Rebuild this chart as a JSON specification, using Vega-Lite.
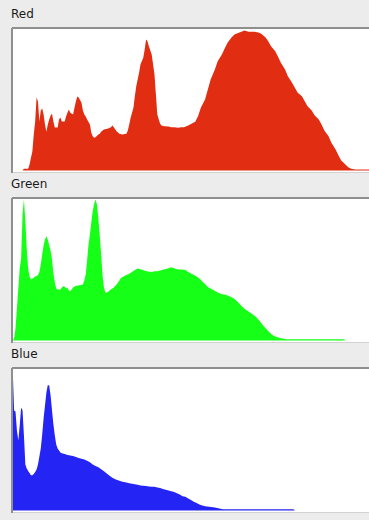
{
  "$schema": "https://vega.github.io/schema/vega-lite/v6.json",
  "background": "#ececec",
  "padding": {"left": 11, "top": 8, "right": 0, "bottom": 10},
  "spacing": 4,
  "config": {
    "view": {"stroke": null, "fill": "#ffffff"},
    "title": {"anchor": "start", "fontSize": 12, "font": "DejaVu Sans", "fontWeight": "normal", "color": "#1a1a1a", "offset": 6}
  },
  "datasets": {
    "red": [
      {"level":0,"count":0},{"level":7,"count":0},{"level":8,"count":1.7},{"level":11,"count":1.7},{"level":12,"count":6},{"level":13,"count":12.7},{"level":14,"count":19},{"level":15,"count":36},{"level":16,"count":49},{"level":17,"count":73},{"level":18,"count":69},{"level":19,"count":49},{"level":20,"count":60},{"level":21,"count":62},{"level":22,"count":56},{"level":23,"count":46},{"level":24,"count":38.7},{"level":25,"count":46},{"level":26,"count":51},{"level":27,"count":55},{"level":28,"count":56.7},{"level":29,"count":49},{"level":30,"count":43},{"level":31,"count":43},{"level":32,"count":43},{"level":33,"count":51},{"level":34,"count":53},{"level":35,"count":49},{"level":37,"count":49},{"level":38,"count":54},{"level":39,"count":57.7},{"level":40,"count":61},{"level":41,"count":57.7},{"level":43,"count":56},{"level":44,"count":62.7},{"level":45,"count":69},{"level":46,"count":74},{"level":47,"count":73},{"level":49,"count":67.7},{"level":50,"count":60},{"level":51,"count":56},{"level":52,"count":54},{"level":53,"count":51},{"level":55,"count":46},{"level":56,"count":37.7},{"level":57,"count":34.3},{"level":58,"count":32.7},{"level":59,"count":33.3},{"level":61,"count":36},{"level":62,"count":36.7},{"level":63,"count":38.7},{"level":64,"count":40},{"level":65,"count":41},{"level":68,"count":42},{"level":70,"count":43.3},{"level":71,"count":45},{"level":72,"count":43.3},{"level":74,"count":39.3},{"level":76,"count":36.7},{"level":78,"count":36},{"level":81,"count":36.7},{"level":82,"count":40},{"level":83,"count":46},{"level":84,"count":52.7},{"level":86,"count":62.7},{"level":87,"count":74.3},{"level":88,"count":84.3},{"level":89,"count":91},{"level":90,"count":97.7},{"level":91,"count":106},{"level":93,"count":112.7},{"level":94,"count":121},{"level":95,"count":131},{"level":96,"count":129.3},{"level":97,"count":124.3},{"level":99,"count":116},{"level":100,"count":106},{"level":101,"count":96},{"level":102,"count":76},{"level":103,"count":56},{"level":105,"count":46.7},{"level":106,"count":45},{"level":108,"count":44.3},{"level":111,"count":44},{"level":113,"count":43.3},{"level":115,"count":43.3},{"level":118,"count":42.7},{"level":120,"count":43.3},{"level":122,"count":43.3},{"level":125,"count":45},{"level":127,"count":46.5},{"level":130,"count":48.7},{"level":132,"count":54.3},{"level":134,"count":62.7},{"level":137,"count":71},{"level":139,"count":81},{"level":141,"count":91},{"level":144,"count":101},{"level":146,"count":109.3},{"level":149,"count":116},{"level":151,"count":122},{"level":153,"count":127.7},{"level":156,"count":133.3},{"level":158,"count":136},{"level":161,"count":137.7},{"level":163,"count":138.7},{"level":165,"count":140},{"level":168,"count":138.7},{"level":170,"count":138.7},{"level":172,"count":138.7},{"level":175,"count":138},{"level":177,"count":136.7},{"level":180,"count":133.3},{"level":182,"count":129.3},{"level":184,"count":124.3},{"level":187,"count":119.3},{"level":189,"count":113.7},{"level":191,"count":107.7},{"level":194,"count":101},{"level":196,"count":94.3},{"level":199,"count":87.7},{"level":201,"count":82.7},{"level":203,"count":77.7},{"level":206,"count":74.3},{"level":208,"count":69.3},{"level":210,"count":64.3},{"level":213,"count":60},{"level":215,"count":55.3},{"level":218,"count":51},{"level":220,"count":46},{"level":222,"count":40},{"level":225,"count":34.3},{"level":227,"count":27.7},{"level":230,"count":21},{"level":232,"count":15.3},{"level":234,"count":10},{"level":237,"count":6},{"level":239,"count":3.3},{"level":241,"count":1.7},{"level":244,"count":1},{"level":255,"count":1}
    ],
    "green": [
      {"level":0,"count":0},{"level":1,"count":2},{"level":2,"count":12},{"level":3,"count":32},{"level":4,"count":52},{"level":5,"count":72},{"level":6,"count":82},{"level":7,"count":126},{"level":8,"count":141},{"level":9,"count":120},{"level":10,"count":92},{"level":11,"count":72},{"level":12,"count":64},{"level":13,"count":61},{"level":14,"count":62},{"level":15,"count":62.7},{"level":16,"count":64},{"level":17,"count":64.5},{"level":18,"count":65.5},{"level":19,"count":68.5},{"level":20,"count":76},{"level":21,"count":86},{"level":22,"count":95},{"level":23,"count":101},{"level":24,"count":104.3},{"level":25,"count":101},{"level":26,"count":95},{"level":27,"count":90},{"level":28,"count":81},{"level":29,"count":67},{"level":30,"count":58},{"level":31,"count":52},{"level":32,"count":51},{"level":33,"count":51},{"level":34,"count":51},{"level":35,"count":53},{"level":36,"count":54.3},{"level":37,"count":54},{"level":38,"count":52},{"level":39,"count":52.7},{"level":40,"count":50},{"level":41,"count":49.3},{"level":42,"count":51},{"level":43,"count":53},{"level":44,"count":54},{"level":46,"count":55},{"level":48,"count":55.3},{"level":50,"count":56},{"level":51,"count":60},{"level":52,"count":66},{"level":53,"count":80},{"level":54,"count":96},{"level":55,"count":106},{"level":56,"count":118},{"level":57,"count":129.5},{"level":58,"count":136.5},{"level":59,"count":141},{"level":60,"count":136},{"level":61,"count":122},{"level":62,"count":105},{"level":63,"count":86},{"level":64,"count":65},{"level":65,"count":53},{"level":66,"count":48},{"level":67,"count":48},{"level":68,"count":48.7},{"level":69,"count":50},{"level":70,"count":51},{"level":71,"count":52},{"level":72,"count":53},{"level":73,"count":54.5},{"level":74,"count":56},{"level":75,"count":58},{"level":76,"count":60},{"level":77,"count":62.5},{"level":79,"count":64},{"level":81,"count":65.5},{"level":83,"count":66.8},{"level":85,"count":68.5},{"level":87,"count":70.5},{"level":89,"count":72},{"level":91,"count":71.2},{"level":93,"count":70.3},{"level":95,"count":69.5},{"level":97,"count":68.8},{"level":99,"count":68.5},{"level":101,"count":69.3},{"level":103,"count":69.3},{"level":105,"count":70},{"level":107,"count":70.8},{"level":109,"count":71.5},{"level":111,"count":72.3},{"level":113,"count":73.3},{"level":115,"count":72.2},{"level":117,"count":71.2},{"level":119,"count":71},{"level":121,"count":71},{"level":123,"count":70.5},{"level":125,"count":68.5},{"level":127,"count":67},{"level":129,"count":65.5},{"level":131,"count":64},{"level":133,"count":62},{"level":135,"count":59},{"level":137,"count":56.5},{"level":139,"count":53.5},{"level":141,"count":52},{"level":143,"count":50.5},{"level":145,"count":48.7},{"level":147,"count":47.5},{"level":149,"count":46.3},{"level":151,"count":46},{"level":153,"count":45},{"level":155,"count":43.7},{"level":157,"count":42.5},{"level":159,"count":40.3},{"level":161,"count":37.5},{"level":163,"count":34.5},{"level":165,"count":31.7},{"level":167,"count":30},{"level":169,"count":28},{"level":171,"count":26},{"level":173,"count":24},{"level":175,"count":21},{"level":177,"count":17.5},{"level":179,"count":14},{"level":181,"count":11},{"level":183,"count":8},{"level":185,"count":5.5},{"level":187,"count":4},{"level":189,"count":3},{"level":191,"count":2.3},{"level":193,"count":1.8},{"level":195,"count":1.3},{"level":236,"count":1.2},{"level":237,"count":0},{"level":255,"count":0}
    ],
    "blue": [
      {"level":0,"count":141},{"level":1,"count":100},{"level":2,"count":99},{"level":3,"count":80},{"level":4,"count":70},{"level":5,"count":85},{"level":6,"count":103},{"level":7,"count":100},{"level":8,"count":75},{"level":9,"count":46},{"level":10,"count":42},{"level":11,"count":39.5},{"level":12,"count":37.5},{"level":13,"count":35.3},{"level":14,"count":35.3},{"level":15,"count":36.5},{"level":16,"count":38.5},{"level":17,"count":41},{"level":18,"count":46},{"level":19,"count":54},{"level":20,"count":62},{"level":21,"count":76},{"level":22,"count":92},{"level":23,"count":105},{"level":24,"count":118},{"level":25,"count":125.5},{"level":26,"count":125},{"level":27,"count":115},{"level":28,"count":100},{"level":29,"count":86},{"level":30,"count":75},{"level":31,"count":66},{"level":32,"count":62},{"level":33,"count":60},{"level":34,"count":58},{"level":35,"count":57.3},{"level":37,"count":56.5},{"level":39,"count":55.5},{"level":41,"count":54.9},{"level":43,"count":54.5},{"level":45,"count":53.5},{"level":47,"count":52.5},{"level":49,"count":51.8},{"level":51,"count":51},{"level":53,"count":49.8},{"level":55,"count":48.2},{"level":57,"count":46},{"level":59,"count":44.5},{"level":61,"count":43.3},{"level":63,"count":41.2},{"level":65,"count":39.3},{"level":67,"count":37},{"level":69,"count":34.7},{"level":71,"count":32.7},{"level":73,"count":31.2},{"level":75,"count":30.2},{"level":77,"count":29.3},{"level":79,"count":28.6},{"level":81,"count":28},{"level":83,"count":27.3},{"level":85,"count":26.8},{"level":87,"count":26.2},{"level":89,"count":25.7},{"level":91,"count":25.1},{"level":93,"count":24.8},{"level":95,"count":24.5},{"level":97,"count":24.1},{"level":99,"count":23.7},{"level":101,"count":23.7},{"level":103,"count":23},{"level":105,"count":22.5},{"level":107,"count":21.5},{"level":109,"count":20.8},{"level":111,"count":20},{"level":113,"count":19.3},{"level":115,"count":18.5},{"level":117,"count":17.3},{"level":119,"count":16},{"level":121,"count":14.3},{"level":123,"count":13.8},{"level":125,"count":12},{"level":127,"count":10.5},{"level":129,"count":8.8},{"level":131,"count":7.5},{"level":133,"count":6},{"level":135,"count":5},{"level":137,"count":4.2},{"level":140,"count":3.7},{"level":144,"count":2.9},{"level":148,"count":1.8},{"level":150,"count":1.3},{"level":200,"count":1.2},{"level":201,"count":0},{"level":255,"count":0}
    ]
  },
  "vconcat": [
    {
      "title": {"text": "Red"},
      "width": 358, "height": 144.5,
      "data": {"name": "red"},
      "layer": [
        {"mark": {"type": "area", "color": "#e12d12", "clip": true},
         "encoding": {
           "x": {"field": "level", "type": "quantitative", "scale": {"domain": [-0.5, 254.5], "nice": false, "zero": false}, "axis": null},
           "y": {"field": "count", "type": "quantitative", "scale": {"domain": [-2, 142.5], "nice": false, "zero": false}, "axis": null},
           "y2": {"datum": 0}
         }},
        {"mark": {"type": "rule", "color": "#d2d2d2", "strokeWidth": 1}, "encoding": {"y": {"datum": -2}}},
        {"mark": {"type": "rule", "color": "#8f8f8f", "strokeWidth": 2}, "encoding": {"y": {"datum": 142.5}}},
        {"mark": {"type": "rule", "color": "#8f8f8f", "strokeWidth": 2}, "encoding": {"x": {"datum": -0.5}}}
      ]
    },
    {
      "title": {"text": "Green"},
      "width": 358, "height": 144.5,
      "data": {"name": "green"},
      "layer": [
        {"mark": {"type": "area", "color": "#16ff16", "clip": true},
         "encoding": {
           "x": {"field": "level", "type": "quantitative", "scale": {"domain": [-0.5, 254.5], "nice": false, "zero": false}, "axis": null},
           "y": {"field": "count", "type": "quantitative", "scale": {"domain": [-2, 142.5], "nice": false, "zero": false}, "axis": null},
           "y2": {"datum": 0}
         }},
        {"mark": {"type": "rule", "color": "#d2d2d2", "strokeWidth": 1}, "encoding": {"y": {"datum": -2}}},
        {"mark": {"type": "rule", "color": "#8f8f8f", "strokeWidth": 2}, "encoding": {"y": {"datum": 142.5}}},
        {"mark": {"type": "rule", "color": "#8f8f8f", "strokeWidth": 2}, "encoding": {"x": {"datum": -0.5}}}
      ]
    },
    {
      "title": {"text": "Blue"},
      "width": 358, "height": 144.5,
      "data": {"name": "blue"},
      "layer": [
        {"mark": {"type": "area", "color": "#2424f4", "clip": true},
         "encoding": {
           "x": {"field": "level", "type": "quantitative", "scale": {"domain": [-0.5, 254.5], "nice": false, "zero": false}, "axis": null},
           "y": {"field": "count", "type": "quantitative", "scale": {"domain": [-2, 142.5], "nice": false, "zero": false}, "axis": null},
           "y2": {"datum": 0}
         }},
        {"mark": {"type": "rule", "color": "#d2d2d2", "strokeWidth": 1}, "encoding": {"y": {"datum": -2}}},
        {"mark": {"type": "rule", "color": "#8f8f8f", "strokeWidth": 2}, "encoding": {"y": {"datum": 142.5}}},
        {"mark": {"type": "rule", "color": "#8f8f8f", "strokeWidth": 2}, "encoding": {"x": {"datum": -0.5}}}
      ]
    }
  ]
}
